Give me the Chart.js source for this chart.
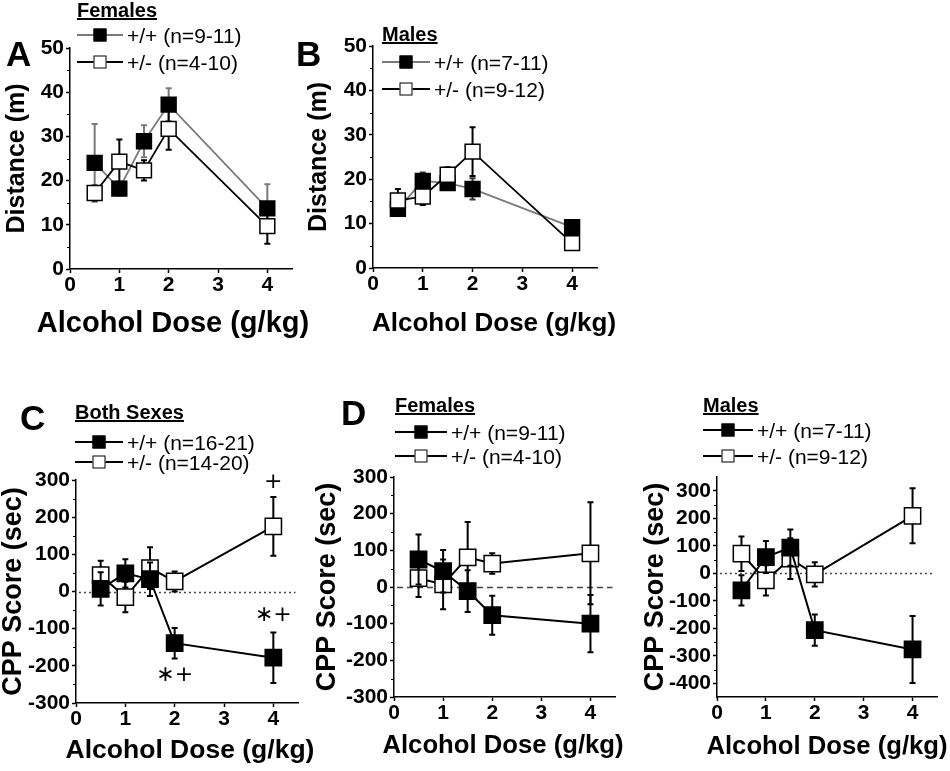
<!DOCTYPE html>
<html>
<head>
<meta charset="utf-8">
<script src="https://cdn.jsdelivr.net/npm/chart.js@4.4.1/dist/chart.umd.min.js"></script>
<style>
  body { margin: 0; background: #fff; }
  #fig { position: relative; width: 950px; height: 771px; overflow: hidden; font-family: "Liberation Sans", Arial, sans-serif; color: #000; }
  #fig canvas { position: absolute; }
  .letter { position: absolute; font-weight: bold; font-size: 35px; line-height: 1; transform: translateY(-50%); }
  .lt { position: absolute; font-weight: bold; font-size: 20px; line-height: 1; text-decoration: underline; text-decoration-thickness: 2px; transform: translateY(-50%); }
  .ll { position: absolute; height: 0; border-top: 2px solid #000; transform: translateY(-50%); }
  .lm { position: absolute; width: 11px; height: 11px; border: 1.5px solid #000; transform: translate(-50%, -50%); }
  .lx { position: absolute; font-size: 21px; line-height: 1; white-space: nowrap; transform: translateY(-50%); }
</style>
</head>
<body>
<div id="fig"></div>
<script>
// ---- data ----
const doses = [0.5, 1, 1.5, 2, 4];
const doseTicks = [0, 1, 2, 3, 4];
const distTicks = [0, 10, 20, 30, 40, 50];
const cppTicks = [-300, -200, -100, 0, 100, 200, 300];
const cppMaleTicks = [-400, -300, -200, -100, 0, 100, 200, 300];

// A: distance, females
const distFemWT = [24.0, 18.2, 28.9, 37.2, 13.7];
const distFemWTsem = [8.8, 1.6, 3.6, 3.7, 5.5];
const distFemHet = [17.2, 24.3, 22.3, 31.7, 9.7];
const distFemHetSem = [1.7, 5.0, 2.3, 4.7, 4.0];
// B: distance, males
const distMaleWT = [13.3, 19.6, 19.1, 17.8, 9.2];
const distMaleWTsem = [0.9, 1.9, 1.5, 2.4, 1.6];
const distMaleHet = [15.2, 16.1, 21.0, 26.2, 5.6];
const distMaleHetSem = [2.6, 1.9, 1.7, 5.5, 1.1];
// C: CPP, both sexes
const cppBothWT = [7, 49, 33, -139, -178];
const cppBothWTsem = [45, 38, 45, 41, 68];
const cppBothHet = [44, -15, 63, 27, 175];
const cppBothHetSem = [39, 41, 56, 27, 79];
// D: CPP, females
const cppFemWT = [75, 43, -11, -77, -100];
const cppFemWTsem = [68, 58, 57, 53, 78];
const cppFemHet = [24, 7, 81, 64, 92];
const cppFemHetSem = [51, 68, 96, 28, 139];
// D: CPP, males
const cppMaleWT = [-62, 59, 93, -207, -277];
const cppMaleWTsem = [55, 58, 66, 57, 122];
const cppMaleHet = [71, -26, 53, -4, 209];
const cppMaleHetSem = [63, 55, 74, 44, 100];

// significance marks in C
const sigText = ['+', '\u2217+', '\u2217+'];
const sigDose = [4, 4, 2];
const sigScore = [293, -63, -226];

const legendA = ['+/+ (n=9-11)', '+/- (n=4-10)'];
const legendB = ['+/+ (n=7-11)', '+/- (n=9-12)'];
const legendC = ['+/+ (n=16-21)', '+/- (n=14-20)'];
const legendDF = ['+/+ (n=9-11)', '+/- (n=4-10)'];
const legendDM = ['+/+ (n=7-11)', '+/- (n=9-12)'];

const xTitle = 'Alcohol Dose (g/kg)';
const FONT = '"Liberation Sans", Arial, sans-serif';
const GREY = '#7a7a7a';

Chart.defaults.font.family = FONT;
Chart.defaults.color = '#000';
Chart.defaults.animation = false;

const fig = document.getElementById('fig');

function pts(vals) {
  return doses.map((d, i) => ({ x: d, y: vals[i] }));
}

function series(vals, sem, filled, lineColor, errColor, radius, lw, order) {
  return {
    data: pts(vals),
    errors: sem,
    errorColor: errColor,
    borderColor: lineColor,
    borderWidth: lw,
    pointStyle: 'rect',
    pointRadius: radius,
    pointBackgroundColor: filled ? '#000' : '#fff',
    pointBorderColor: '#000',
    pointBorderWidth: 1.5,
    tension: 0,
    order
  };
}

// error bars drawn just before each dataset so its own markers cover them
const errorBars = {
  id: 'errorBars',
  beforeDatasetDraw(chart, args) {
    const ds = chart.data.datasets[args.index];
    if (!ds.errors) return;
    const { ctx } = chart;
    const y = chart.scales.y;
    ctx.save();
    ctx.strokeStyle = ds.errorColor;
    ctx.lineWidth = 2;
    args.meta.data.forEach((el, i) => {
      const v = ds.data[i].y, e = ds.errors[i];
      const top = y.getPixelForValue(v + e), bot = y.getPixelForValue(v - e);
      ctx.beginPath();
      ctx.moveTo(el.x, top); ctx.lineTo(el.x, bot);
      ctx.moveTo(el.x - 3, top); ctx.lineTo(el.x + 3, top);
      ctx.moveTo(el.x - 3, bot); ctx.lineTo(el.x + 3, bot);
      ctx.stroke();
    });
    ctx.restore();
  }
};

// minor y ticks, zero reference line, x title (no maxWidth squeeze) and sig marks
function axisExtras(p) {
  return {
    id: 'axisExtras',
    beforeDatasetsDraw(chart) {
      const { ctx, chartArea: a } = chart;
      const y = chart.scales.y, x = chart.scales.x;
      const t = p.yTicks;
      ctx.save();
      ctx.strokeStyle = '#000';
      ctx.lineWidth = 1;
      for (let i = 0; i < t.length - 1; i++) {
        const py = Math.round(y.getPixelForValue((t[i] + t[i + 1]) / 2)) + 0.5;
        ctx.beginPath();
        ctx.moveTo(a.left - 3, py); ctx.lineTo(a.left, py);
        ctx.stroke();
      }
      if (p.zeroDash) {
        const py = Math.round(y.getPixelForValue(0)) + 0.5;
        ctx.strokeStyle = '#444';
        ctx.lineWidth = 1.5;
        ctx.setLineDash(p.zeroDash);
        ctx.beginPath();
        ctx.moveTo(x.getPixelForValue(0.06), py);
        ctx.lineTo(x.getPixelForValue(4.45), py);
        ctx.stroke();
      }
      ctx.restore();
    },
    afterDatasetsDraw(chart) {
      const { ctx } = chart;
      ctx.save();
      ctx.fillStyle = '#000';
      ctx.textAlign = 'center';
      ctx.textBaseline = 'middle';
      ctx.font = `bold ${p.xTitleSize}px ${FONT}`;
      ctx.fillText(xTitle, p.xTitleX - p.left, p.xTitleY - p.top);
      if (p.sig) {
        ctx.font = '22px "DejaVu Sans", sans-serif';
        p.sig.text.forEach((s, i) => {
          ctx.fillText(s, chart.scales.x.getPixelForValue(p.sig.x[i]), chart.scales.y.getPixelForValue(p.sig.y[i]));
        });
      }
      ctx.restore();
    }
  };
}

function panel(p) {
  const cv = document.createElement('canvas');
  cv.width = p.w; cv.height = p.h;
  cv.style.left = p.left + 'px'; cv.style.top = p.top + 'px';
  fig.appendChild(cv);
  const axisCommon = {
    border: { display: true, color: '#000', width: 1.5 },
    grid: { display: true, drawOnChartArea: false, drawTicks: true, tickLength: 4, tickColor: '#000', tickWidth: 1.5 }
  };
  return new Chart(cv, {
    type: 'line',
    data: { datasets: p.datasets },
    options: {
      responsive: false,
      animation: false,
      layout: { padding: { top: p.padTop, right: p.padRight, left: 0, bottom: 0 } },
      plugins: { legend: { display: false }, tooltip: { enabled: false } },
      scales: {
        x: {
          type: 'linear', min: 0, max: 4.5,
          ...axisCommon,
          afterBuildTicks: s => { s.ticks = doseTicks.map(v => ({ value: v })); },
          afterFit: s => { s.height = p.xH; },
          ticks: { font: { size: 21, weight: 'bold' }, padding: 0, maxRotation: 0, autoSkip: false },
          title: { display: false }
        },
        y: {
          type: 'linear', min: p.yMin, max: p.yMax,
          ...axisCommon,
          afterBuildTicks: s => { s.ticks = p.yTicks.map(v => ({ value: v })); },
          afterFit: s => { s.width = p.yW; },
          ticks: { font: { size: 21, weight: 'bold' }, padding: 2, autoSkip: false },
          title: { display: true, text: p.yTitle, font: { size: p.yTitleSize, weight: 'bold', lineHeight: 1 }, padding: { top: p.yTitlePad, bottom: 0 } }
        }
      }
    },
    plugins: [errorBars, axisExtras(p)]
  });
}

function el(cls, css, text) {
  const d = document.createElement('div');
  d.className = cls;
  Object.assign(d.style, css);
  if (text) d.textContent = text;
  fig.appendChild(d);
  return d;
}

function legend(g) {
  el('lt', { left: g.x + 'px', top: g.titleY + 'px' }, g.title);
  g.labels.forEach((lab, i) => {
    const y = g.rows[i];
    el('ll', { left: g.x + 'px', top: y + 'px', width: g.lineW + 'px', borderTopColor: g.lineColors[i] });
    el('lm', { left: (g.x + g.lineW / 2) + 'px', top: y + 'px', background: i === 0 ? '#000' : '#fff' });
    el('lx', { left: (g.x + g.lineW + 4) + 'px', top: y + 'px' }, lab);
  });
}

// ---- panel A ----
panel({
  left: 0, top: 0, w: 325, h: 345, padTop: 48, padRight: 33, yW: 70, xH: 76,
  yMin: 0, yMax: 50, yTicks: distTicks, yTitle: 'Distance (m)', yTitleSize: 25, yTitlePad: 5,
  xTitleSize: 29, xTitleX: 173, xTitleY: 324,
  datasets: [
    series(distFemWT, distFemWTsem, true, GREY, GREY, 10.5, 1.8, 1),
    series(distFemHet, distFemHetSem, false, '#000', '#000', 10.5, 1.8, 0)
  ]
});
// ---- panel B ----
panel({
  left: 300, top: 0, w: 320, h: 345, padTop: 46, padRight: 23, yW: 73, xH: 77,
  yMin: 0, yMax: 50, yTicks: distTicks, yTitle: 'Distance (m)', yTitleSize: 25, yTitlePad: 7,
  xTitleSize: 26, xTitleX: 494, xTitleY: 324,
  datasets: [
    series(distMaleWT, distMaleWTsem, true, GREY, '#333', 10.5, 1.8, 1),
    series(distMaleHet, distMaleHetSem, false, '#000', '#000', 10.5, 1.8, 0)
  ]
});
// ---- panel C ----
panel({
  left: 0, top: 380, w: 320, h: 391, padTop: 100, padRight: 22, yW: 76, xH: 68,
  yMin: -300, yMax: 300, yTicks: cppTicks, yTitle: 'CPP Score (sec)', yTitleSize: 27, yTitlePad: 0,
  xTitleSize: 26.5, xTitleX: 190, xTitleY: 751, zeroDash: [2, 3],
  sig: { text: sigText, x: sigDose, y: sigScore },
  datasets: [
    series(cppBothWT, cppBothWTsem, true, '#000', '#000', 11.5, 2, 0),
    series(cppBothHet, cppBothHetSem, false, '#000', '#000', 11.5, 2, 1)
  ]
});
// ---- panel D, females ----
panel({
  left: 310, top: 380, w: 320, h: 391, padTop: 97, padRight: 15, yW: 84, xH: 74,
  yMin: -300, yMax: 300, yTicks: cppTicks, yTitle: 'CPP Score (sec)', yTitleSize: 27, yTitlePad: 4,
  xTitleSize: 25.7, xTitleX: 503, xTitleY: 746, zeroDash: [6, 4],
  datasets: [
    series(cppFemWT, cppFemWTsem, true, '#000', '#000', 11.5, 2, 0),
    series(cppFemHet, cppFemHetSem, false, '#000', '#000', 11.5, 2, 1)
  ]
});
// ---- panel D, males ----
panel({
  left: 630, top: 380, w: 320, h: 391, padTop: 97, padRight: 12, yW: 87, xH: 74,
  yMin: -450, yMax: 350, yTicks: cppMaleTicks, yTitle: 'CPP Score (sec)', yTitleSize: 27, yTitlePad: 12,
  xTitleSize: 25.7, xTitleX: 827, xTitleY: 747, zeroDash: [2, 3],
  datasets: [
    series(cppMaleWT, cppMaleWTsem, true, '#000', '#000', 11.5, 2, 0),
    series(cppMaleHet, cppMaleHetSem, false, '#000', '#000', 11.5, 2, 1)
  ]
});

// ---- legends and panel letters ----
legend({ x: 77, titleY: 10, title: 'Females', rows: [35, 62], lineW: 46, labels: legendA, lineColors: [GREY, '#000'] });
legend({ x: 382, titleY: 34, title: 'Males', rows: [62, 89], lineW: 48, labels: legendB, lineColors: [GREY, '#000'] });
legend({ x: 75, titleY: 412, title: 'Both Sexes', rows: [442, 462], lineW: 48, labels: legendC, lineColors: ['#000', '#000'] });
legend({ x: 395, titleY: 405, title: 'Females', rows: [432, 456], lineW: 52, labels: legendDF, lineColors: ['#000', '#000'] });
legend({ x: 703, titleY: 405, title: 'Males', rows: [430, 456], lineW: 50, labels: legendDM, lineColors: ['#000', '#000'] });

el('letter', { left: '6px', top: '53px' }, 'A');
el('letter', { left: '296px', top: '53px' }, 'B');
el('letter', { left: '20px', top: '417px' }, 'C');
el('letter', { left: '341px', top: '412px' }, 'D');
</script>
</body>
</html>
